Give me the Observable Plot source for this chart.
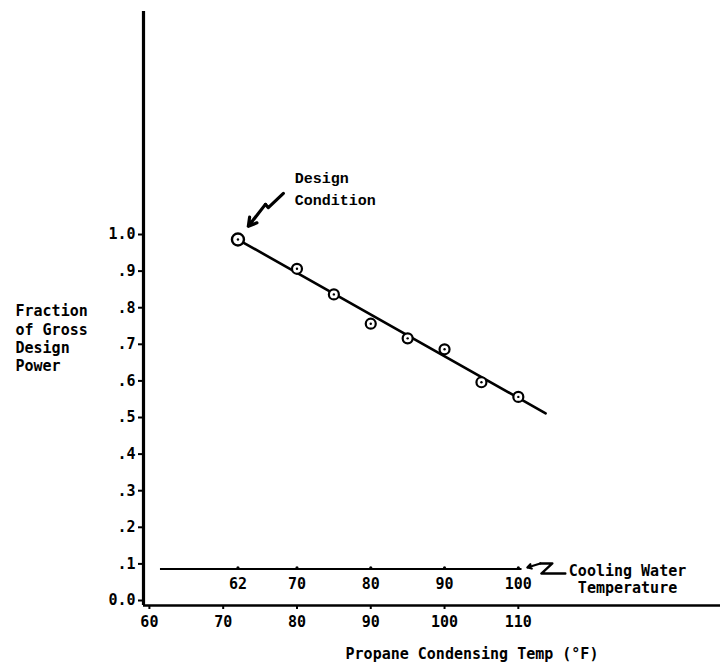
<!DOCTYPE html>
<html>
<head>
<meta charset="utf-8">
<script src="https://cdn.jsdelivr.net/npm/d3@7"></script>
<script src="https://cdn.jsdelivr.net/npm/@observablehq/plot@0.6"></script>
<style>
  html, body { margin: 0; padding: 0; background: #fff; }
  #chart { width: 720px; height: 670px; }
</style>
</head>
<body>
<div id="chart"></div>
<script>
// ---- data ----
const condensingTemp = [72, 80, 85, 90, 95, 100, 105, 110];
const powerFraction  = [1.00, 0.92, 0.85, 0.77, 0.73, 0.70, 0.61, 0.57];

// fitted line through the points
const fitTemp = [72, 113.7];
const fitFraction = [1.00, 0.525];

// cooling water temperature scale drawn at fraction 0.1
const coolingLabels = ["62", "70", "80", "90", "100"];
const coolingAtCondensing = [72, 80, 90, 100, 110];
const coolingLineExtent = [61.5, 110.5];
const coolingLevel = 0.1;

// axes
const xTicks = [60, 70, 80, 90, 100, 110];
const yTicks = [0, 0.1, 0.2, 0.3, 0.4, 0.5, 0.6, 0.7, 0.8, 0.9, 1.0];
const yTickLabels = ["0.0", ".1", ".2", ".3", ".4", ".5", ".6", ".7", ".8", ".9", "1.0"];

const yTitle = "Fraction\nof Gross\nDesign\nPower";
const xTitle = "Propane Condensing Temp (°F)";
const designNote = "Design\nCondition";
const coolingNote = "Cooling Water\nTemperature";

// ---- build ----
const X0 = 59.2, X1 = 137.4, YTOP = 1.623;
const points = condensingTemp.map((t, i) => ({t, f: powerFraction[i]}));
const fit = fitTemp.map((t, i) => ({t, f: fitFraction[i]}));
const cool = coolingAtCondensing.map((t, i) => ({t, label: coolingLabels[i]}));
const mono = "'DejaVu Sans Mono', 'Liberation Mono', monospace";

const chart = Plot.plot({
  width: 720,
  height: 670,
  marginLeft: 143,
  marginRight: 0,
  marginTop: 11,
  marginBottom: 65,
  style: {fontFamily: mono, fontSize: "15px", fontWeight: "bold", background: "#fff", color: "#000"},
  x: {domain: [X0, X1]},
  y: {domain: [0, YTOP]},
  marks: [
    // axes lines
    Plot.ruleX([X0], {y1: 0, y2: YTOP, stroke: "#000", strokeWidth: 3.2}),
    Plot.ruleY([0], {stroke: "#000", strokeWidth: 2.6}),
    Plot.axisY({ticks: yTicks, tickFormat: (d, i) => yTickLabels[i], tickSize: 5, tickPadding: 3, dy: -5, label: null, strokeWidth: 2}),
    Plot.axisX({ticks: xTicks, tickFormat: d => String(d), tickSize: 4, tickPadding: 7, label: null, strokeWidth: 2}),
    // cooling water temperature scale
    Plot.ruleY([coolingLevel], {x1: coolingLineExtent[0], x2: coolingLineExtent[1], stroke: "#000", strokeWidth: 2}),
    Plot.dot(cool, {x: "t", y: () => coolingLevel, r: 1.6, fill: "#000", dy: -1}),
    Plot.text(cool, {x: "t", y: () => coolingLevel, text: "label", dy: 15}),
    Plot.arrow([{}], {x1: 112.98, y1: 0.1148, x2: 111.22, y2: 0.1038, stroke: "#000", strokeWidth: 2.2, headLength: 6}),
    Plot.line([[112.98, 0.1148], [114.61, 0.1148], [113.12, 0.0874], [116.37, 0.0874]], {stroke: "#000", strokeWidth: 2.4}),
    Plot.text([coolingNote], {x: () => 124.8, y: () => 0.072, text: d => d, textAnchor: "middle", lineHeight: 1.13}),
    // fitted line and points
    Plot.line(fit, {x: "t", y: "f", stroke: "#000", strokeWidth: 2.6}),
    Plot.dot(points.slice(1), {x: "t", y: "f", r: 5, stroke: "#000", strokeWidth: 2.2, fill: "#fff"}),
    Plot.dot(points.slice(0, 1), {x: "t", y: "f", r: 6, stroke: "#000", strokeWidth: 2.4, fill: "#fff"}),
    Plot.dot(points, {x: "t", y: "f", r: 1.2, fill: "#000"}),
    // design condition annotation
    Plot.line([[78.16, 1.126], [76.12, 1.087], [75.72, 1.096]], {stroke: "#000", strokeWidth: 3.2}),
    Plot.arrow([{}], {x1: 75.72, y1: 1.096, x2: 73.41, y2: 1.036, stroke: "#000", strokeWidth: 3.2, headLength: 8}),
    Plot.text([designNote], {x: () => 79.7, y: () => 1.144, text: d => d, textAnchor: "start", lineHeight: 1.45, fontFamily: "'Liberation Mono', monospace", fontSize: 15}),
    // titles
    Plot.text([yTitle], {y: () => 0.731, frameAnchor: "left", dx: -128, text: d => d, textAnchor: "start", lineHeight: 1.22}),
    Plot.text([xTitle], {frameAnchor: "bottom", dx: 40, dy: 53, text: d => d})
  ]
});
document.getElementById("chart").appendChild(chart);
</script>
</body>
</html>
